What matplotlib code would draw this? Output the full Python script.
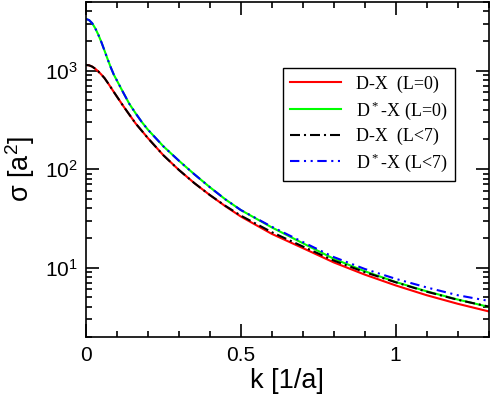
import matplotlib
matplotlib.use('Agg')
import matplotlib.pyplot as plt
import numpy as np
from matplotlib.ticker import LogLocator, NullFormatter, MultipleLocator

# Momentum grid [1/a].
k = [0.00, 0.01, 0.02, 0.03, 0.04, 0.05, 0.06, 0.07, 0.08, 0.09, 0.10,
     0.12, 0.14, 0.16, 0.18, 0.20, 0.25, 0.30, 0.35, 0.40, 0.45, 0.50,
     0.60, 0.70, 0.80, 0.90, 1.00, 1.10, 1.20, 1.30]

# Cross sections [a^2].
sig_dx_l0 = [1140, 1130, 1096, 1042, 977, 908, 836, 753, 676, 605, 543,
             438, 357, 291, 245, 206, 138, 98, 72, 54.5, 42, 33,
             22, 15.8, 11.3, 8.5, 6.6, 5.25, 4.3, 3.6]
sig_dsx_l0 = [3340, 3250, 3020, 2680, 2300, 1930, 1585, 1300, 1075, 905, 790,
              600, 459, 369, 301, 251, 170, 121.6, 88.5, 65.5, 49.3, 38.4,
              25.6, 17.7, 12.3, 9.2, 7.15, 5.75, 4.75, 4.0]
sig_dx_l7 = [1140, 1130, 1096, 1042, 977, 908, 836, 753, 676, 605, 543,
             438, 357, 291, 245, 206, 138, 98, 72, 54.5, 42.4, 33.7,
             22.9, 16.4, 11.8, 9.0, 7.1, 5.7, 4.72, 4.03]
sig_dsx_l7 = [3340, 3250, 3020, 2680, 2300, 1930, 1585, 1300, 1075, 905, 790,
              600, 459, 369, 301, 251, 170, 121.6, 88.5, 65.5, 49.3, 38.4,
              26.0, 18.2, 12.8, 9.7, 7.7, 6.3, 5.25, 4.6]

labels = ['D-X  (L=0)', 'D$\\mathregular{^*}$-X (L=0)',
          'D-X  (L<7)', 'D$\\mathregular{^*}$-X (L<7)']

sans = ['Liberation Sans', 'DejaVu Sans']
serif = ['Liberation Serif', 'DejaVu Serif']

fig = plt.figure(figsize=(4.91, 3.95), dpi=100)
ax = fig.add_axes([0.1752, 0.1481, 0.8198, 0.8476])

ax.plot(k, sig_dx_l0, color='#ff0000', lw=1.5, label=labels[0])
ax.plot(k, sig_dsx_l0, color='#00ff00', lw=1.5, label=labels[1])
ax.plot(k, sig_dx_l7, color='black', lw=1.5, dashes=(4.8, 1.9, 1, 1.9), label=labels[2])
ax.plot(k, sig_dsx_l7, color='#0000ff', lw=1.5, dashes=(4.5, 2.2, 1, 2.2, 1, 2.2), label=labels[3])

ax.set_yscale('log')
ax.set_xlim(0, 1.3)
ax.set_ylim(2, 5000)

# Ticks on every side, pointing in.
ax.set_xticks([0, 0.5, 1], labels=['0', '0.5', '1'], family=sans, fontsize=15)
ax.xaxis.set_minor_locator(MultipleLocator(0.1))
ax.set_yticks([10, 100, 1000],
              labels=['$\\mathregular{10^{1}}$', '$\\mathregular{10^{2}}$', '$\\mathregular{10^{3}}$'],
              family=sans, fontsize=15)
ax.yaxis.set_minor_locator(LogLocator(base=10, subs=np.arange(2, 10)))
ax.yaxis.set_minor_formatter(NullFormatter())
ax.tick_params(which='both', direction='in', top=True, right=True, width=1.2)
ax.tick_params(which='major', length=9.2)
ax.tick_params(which='minor', length=4.6)
ax.tick_params(axis='x', which='major', pad=7)
ax.tick_params(axis='y', which='major', pad=6)
for s in ax.spines.values():
    s.set_linewidth(1.2)

ax.set_xlabel('k [1/a]', family=sans, fontsize=19.5)
ax.set_ylabel('σ [a$\\mathregular{^2}$]', family=sans, fontsize=19.5)
ax.xaxis.set_label_coords(0.5, -0.094)
ax.yaxis.set_label_coords(-0.122, 0.5)

leg = ax.legend(loc='upper right', bbox_to_anchor=(0.917, 0.801),
                prop={'family': serif, 'size': 13}, fancybox=False,
                framealpha=1, edgecolor='black', handlelength=2.8,
                handletextpad=0.85, labelspacing=0.34, borderpad=0.4,
                borderaxespad=0)
leg.get_frame().set_linewidth(1.0)

fig.savefig('out.png', dpi=100)
